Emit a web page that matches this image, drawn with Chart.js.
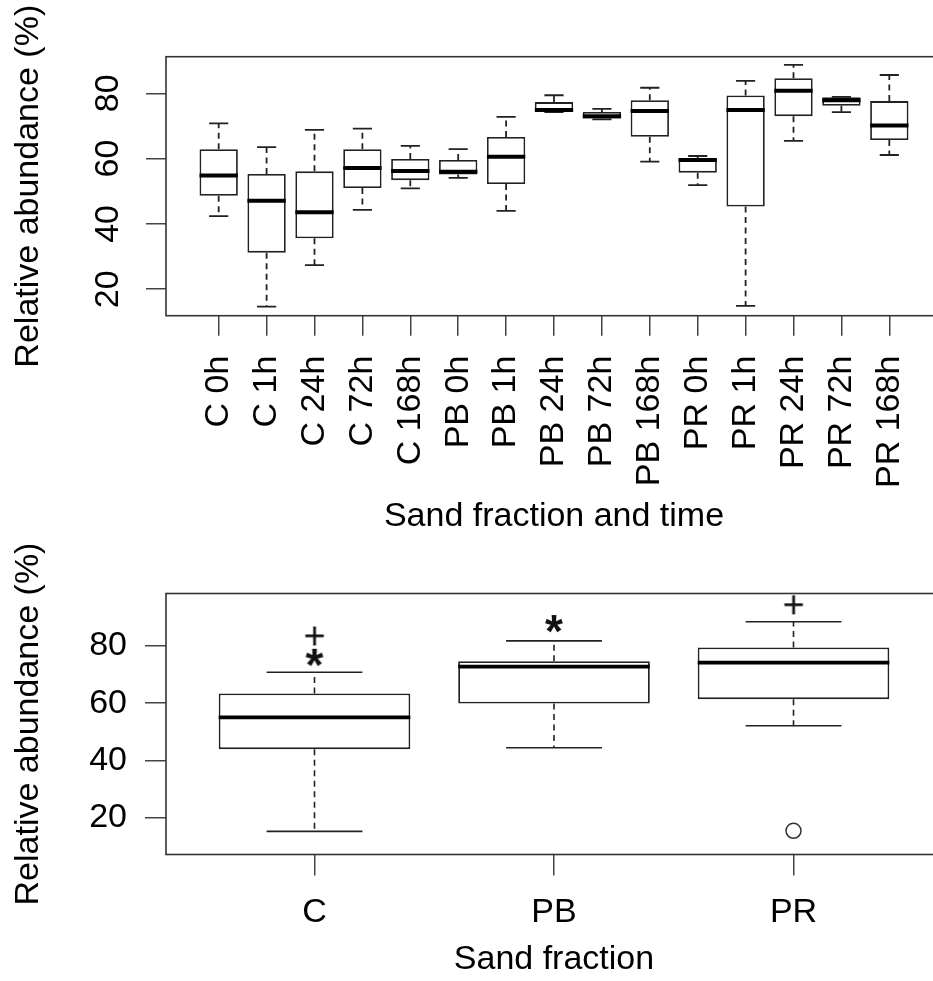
<!DOCTYPE html>
<html><head><meta charset="utf-8">
<script src="https://cdn.jsdelivr.net/npm/chart.js@4.4.1/dist/chart.umd.min.js"></script>
<style>
html,body{margin:0;padding:0;background:#fff;overflow:hidden;}
#wrap{position:relative;width:933px;height:981px;overflow:hidden;background:#fff;}
#c1{position:absolute;left:0;top:0;}
#c2{position:absolute;left:0;top:545px;}
</style></head><body>
<div id="wrap"><canvas id="c1" width="960" height="545"></canvas><canvas id="c2" width="960" height="436"></canvas></div>
<script>
// ---------- Top panel: sand fraction x time ----------
const timeLabels = ['C 0h','C 1h','C 24h','C 72h','C 168h','PB 0h','PB 1h','PB 24h','PB 72h','PB 168h','PR 0h','PR 1h','PR 24h','PR 72h','PR 168h'];
const timeWhiskerLow  = [42.4, 14.7, 27.4, 44.3, 50.9, 54.1, 44.0, 74.2, 72.0, 59.1, 51.9, 14.9, 65.4, 74.2, 61.1];
const timeQ1          = [48.6, 31.2, 35.6, 51.0, 53.4, 55.1, 52.2, 74.4, 72.3, 66.7, 55.7, 45.3, 73.0, 76.2, 65.7];
const timeMedian      = [54.8, 47.1, 43.6, 57.1, 56.2, 56.0, 60.6, 74.9, 73.0, 74.6, 59.6, 74.9, 80.8, 77.9, 70.1];
const timeQ3          = [62.9, 55.3, 56.1, 62.9, 59.9, 59.6, 66.6, 77.3, 74.3, 77.9, 60.1, 79.3, 84.6, 78.8, 77.6];
const timeWhiskerHigh = [70.8, 63.5, 68.8, 69.2, 63.9, 62.9, 72.8, 79.4, 75.2, 81.7, 60.8, 83.8, 88.7, 78.9, 85.6];
const topYTicks = [20, 40, 60, 80];

// ---------- Bottom panel: sand fraction ----------
const groupLabels = ['C', 'PB', 'PR'];
const groupWhiskerLow  = [15.1, 44.4, 52.1];
const groupQ1          = [43.9, 59.9, 61.4];
const groupMedian      = [55.0, 72.8, 74.2];
const groupQ3          = [63.4, 74.7, 79.5];
const groupWhiskerHigh = [70.8, 81.8, 88.5];
const circleGroup = [3];     const circleValue = [15.3];
const plusGroup   = [1, 3];  const plusValue   = [83.7, 94.6];
const starGroup   = [1, 2];  const starValue   = [75.9, 87.7];
const bottomYTicks = [20, 40, 60, 80];

const FONT = "'Liberation Sans', Arial, Helvetica, sans-serif";
const INK = '#111';

function glyph(ch, font) {
  const c = document.createElement('canvas');
  c.width = 48; c.height = 48;
  const g = c.getContext('2d');
  g.font = font; g.fillStyle = INK; g.textAlign = 'left'; g.textBaseline = 'alphabetic';
  const m = g.measureText(ch);
  const L = m.actualBoundingBoxLeft, R = m.actualBoundingBoxRight;
  const A = m.actualBoundingBoxAscent, D = m.actualBoundingBoxDescent;
  g.fillText(ch, 24 - (R - L) / 2, 24 + (A - D) / 2);
  return c;
}

function boxDecor(st) {
  return {
    id: 'boxDecor',
    afterDatasetsDraw(chart) {
      const {ctx, chartArea, scales: {x, y}} = chart;
      const meta = chart.getDatasetMeta(0);
      ctx.save();
      st.med.forEach((m, i) => {
        const bar = meta.data[i];
        const cx = x.getPixelForValue(i + 1);
        const half = bar.width / 2;
        const cap = half * 0.5;
        ctx.strokeStyle = st.color;
        ctx.lineWidth = st.lw;
        ctx.lineCap = 'butt';
        ctx.setLineDash(st.dash);
        ctx.beginPath();
        ctx.moveTo(cx, y.getPixelForValue(st.q3[i])); ctx.lineTo(cx, y.getPixelForValue(st.hi[i]));
        ctx.moveTo(cx, y.getPixelForValue(st.q1[i])); ctx.lineTo(cx, y.getPixelForValue(st.lo[i]));
        ctx.stroke();
        ctx.setLineDash([]);
        ctx.beginPath();
        const yh = y.getPixelForValue(st.hi[i]), yl = y.getPixelForValue(st.lo[i]);
        ctx.moveTo(cx - cap, yh); ctx.lineTo(cx + cap, yh);
        ctx.moveTo(cx - cap, yl); ctx.lineTo(cx + cap, yl);
        ctx.stroke();
        ctx.lineWidth = st.medLw;
        ctx.strokeStyle = '#000';
        const ym = y.getPixelForValue(m);
        ctx.beginPath();
        ctx.moveTo(cx - half, ym); ctx.lineTo(cx + half, ym);
        ctx.stroke();
      });
      ctx.lineWidth = 1.6;
      ctx.strokeStyle = '#333';
      ctx.strokeRect(chartArea.left, chartArea.top, chartArea.right - chartArea.left, chartArea.bottom - chartArea.top);
      ctx.restore();
    }
  };
}

function axisGrid(tl) {
  return {drawOnChartArea: false, drawTicks: true, tickLength: tl, color: '#444', lineWidth: 1.5};
}

// ---------- Top chart ----------
new Chart(document.getElementById('c1'), {
  type: 'bar',
  data: {
    datasets: [{
      data: timeLabels.map((_, i) => ({x: i + 1, y: [timeQ1[i], timeQ3[i]]})),
      backgroundColor: '#fff', borderColor: '#222', borderWidth: 1.8,
      borderSkipped: false, inflateAmount: 0,
      barPercentage: 0.8, categoryPercentage: 1
    }]
  },
  options: {
    responsive: false, animation: false, devicePixelRatio: 1,
    layout: {padding: {left: 0, top: 56.7, right: 18, bottom: 0}},
    plugins: {legend: {display: false}, tooltip: {enabled: false}},
    scales: {
      x: {
        type: 'linear', min: -0.1, max: 16.1, offset: false,
        grid: Object.assign(axisGrid(20), {offset: false}),
        border: {display: false},
        afterBuildTicks: s => { s.ticks = timeLabels.map((_, i) => ({value: i + 1})); },
        afterFit: s => { s.height = 545 - 315.7; },
        ticks: {
          autoSkip: false, minRotation: 90, maxRotation: 90, padding: 20,
          color: '#000', font: {family: FONT, size: 34},
          callback: (v, i) => timeLabels[i]
        },
        title: {display: true, text: 'Sand fraction and time', color: '#000',
                font: {family: FONT, size: 34}, padding: {top: 0, bottom: 8}}
      },
      y: {
        type: 'linear', min: 11.9, max: 91.2, beginAtZero: false,
        grid: axisGrid(20),
        border: {display: false},
        afterBuildTicks: s => { s.ticks = topYTicks.map(v => ({value: v})); },
        afterFit: s => { s.width = 166; },
        ticks: {minRotation: 90, maxRotation: 90, crossAlign: 'center', padding: 18,
                color: '#000', font: {family: FONT, size: 34}},
        title: {display: true, text: 'Relative abundance (%)', color: '#000',
                font: {family: FONT, size: 34}, padding: {top: 8, bottom: 0}}
      }
    }
  },
  plugins: [boxDecor({lo: timeWhiskerLow, q1: timeQ1, med: timeMedian, q3: timeQ3, hi: timeWhiskerHigh,
                      color: '#222', lw: 1.8, medLw: 4, dash: [6, 4.5]})]
});

// ---------- Bottom chart ----------
const plusImg = glyph('+', '38px ' + FONT);
const starImg = glyph('*', 'bold 46px ' + FONT);

new Chart(document.getElementById('c2'), {
  type: 'bar',
  data: {
    datasets: [{
      data: groupLabels.map((_, i) => ({x: i + 1, y: [groupQ1[i], groupQ3[i]]})),
      backgroundColor: '#fff', borderColor: '#222', borderWidth: 1.8,
      borderSkipped: false, inflateAmount: 0,
      barPercentage: 0.8, categoryPercentage: 1
    }, {
      type: 'scatter', showLine: false,
      data: circleGroup.map((g, i) => ({x: g, y: circleValue[i]})),
      pointStyle: 'circle', pointRadius: 7.5, pointBorderWidth: 1.5,
      pointBorderColor: '#333', pointBackgroundColor: 'rgba(0,0,0,0)'
    }, {
      type: 'scatter', showLine: false,
      data: plusGroup.map((g, i) => ({x: g, y: plusValue[i]})),
      pointStyle: plusImg
    }, {
      type: 'scatter', showLine: false,
      data: starGroup.map((g, i) => ({x: g, y: starValue[i]})),
      pointStyle: starImg
    }]
  },
  options: {
    responsive: false, animation: false, devicePixelRatio: 1,
    layout: {padding: {left: 0, top: 48.5, right: 18, bottom: 0}},
    plugins: {legend: {display: false}, tooltip: {enabled: false}},
    scales: {
      x: {
        type: 'linear', min: 0.38, max: 3.62, offset: false,
        grid: Object.assign(axisGrid(21), {offset: false}),
        border: {display: false},
        afterBuildTicks: s => { s.ticks = groupLabels.map((_, i) => ({value: i + 1})); },
        afterFit: s => { s.height = 436 - 309.5; },
        ticks: {autoSkip: false, maxRotation: 0, minRotation: 0, padding: 17,
                color: '#000', font: {family: FONT, size: 34},
                callback: (v, i) => groupLabels[i]},
        title: {display: true, text: 'Sand fraction', color: '#000',
                font: {family: FONT, size: 34}, padding: {top: 0, bottom: 1}}
      },
      y: {
        type: 'linear', min: 7.0, max: 98.4, beginAtZero: false,
        grid: axisGrid(21),
        border: {display: false},
        afterBuildTicks: s => { s.ticks = bottomYTicks.map(v => ({value: v})); },
        afterFit: s => { s.width = 166; },
        ticks: {padding: 18, color: '#000', font: {family: FONT, size: 34}},
        title: {display: true, text: 'Relative abundance (%)', color: '#000',
                font: {family: FONT, size: 34}, padding: {top: 8, bottom: 0}}
      }
    }
  },
  plugins: [boxDecor({lo: groupWhiskerLow, q1: groupQ1, med: groupMedian, q3: groupQ3, hi: groupWhiskerHigh,
                      color: '#222', lw: 1.6, medLw: 3.8, dash: [6, 4.5]})]
});
</script>
</body></html>
